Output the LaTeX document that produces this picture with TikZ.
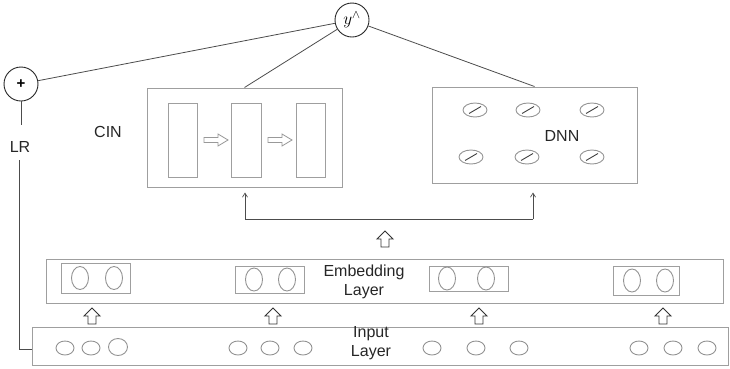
\documentclass[tikz,border=0pt]{standalone}
\usepackage{fontspec}
\setmainfont{Liberation Sans}
\usetikzlibrary{arrows.meta,shapes.geometric}
\begin{document}
\begin{tikzpicture}[x=1pt,y=-1pt,
  box/.style={draw=gray!75,line width=1pt,inner sep=0pt},
  conn/.style={draw=black!70,line width=0.8pt},
  circ/.style={circle,draw=black!85,line width=0.9pt,minimum size=34pt,inner sep=0pt},
  lbl/.style={font=\fontsize{16}{18}\selectfont,text=black!85,align=center,inner sep=0pt},
  unit/.style={ellipse,draw=gray!85,line width=0.9pt,inner sep=0pt},
  hollow/.style={draw=black!80,line width=0.9pt,fill=white},
  thin/.style={draw=black!70,line width=0.7pt,-{Straight Barb[length=4pt,width=5pt]}}
]
\useasboundingbox (0,0) rectangle (730,368);
% output circles
\node[circ,font=\fontsize{17}{20}\selectfont] (yhat) at (352,20) {$y^{\scriptstyle\wedge}$};
\node[circ,font=\fontsize{15}{18}\selectfont\bfseries] (plus) at (21,84) {+};
% CIN
\node[box,minimum width=195pt,minimum height=99pt] (cin) at (244.5,137.5) {};
\node[lbl] (cinl) at (108,132) {CIN};
\node[box,minimum width=29pt,minimum height=74pt] (c1) at (182.5,140) {};
\node[box,minimum width=30pt,minimum height=74pt] (c2) at (246,140) {};
\node[box,minimum width=29pt,minimum height=74pt] (c3) at (310.5,140) {};
\foreach \x in {204,268}{
  \draw[hollow,draw=gray!80,line width=0.8pt] (\x,137.5) -- (\x+14,137.5) -- (\x+14,134) -- (\x+24,140) -- (\x+14,146) -- (\x+14,142.5) -- (\x,142.5) -- cycle;
}
% DNN
\node[box,minimum width=205pt,minimum height=96pt] (dnn) at (534.5,135) {};
\node[lbl] (dnnl) at (562,136) {DNN};
\foreach \x/\y [count=\i] in {475/110,528/110,592/110,471/157,527/157,592/157}{
  \node[unit,minimum width=24pt,minimum height=14pt] (d\i) at (\x,\y) {};
  \draw[black!75,line width=0.9pt] (\x-6,\y+3.5) -- (\x+6,\y-3.5);
}
% connectors to output
\draw[conn] (plus) -- (yhat);
\draw[conn] (yhat) -- (cin.north);
\draw[conn] (yhat) -- (dnn.north);
% LR
\node[lbl] (lr) at (20,147) {LR};
\draw[conn] (plus.south) -- ++(0,24);
% embedding
\node[box,minimum width=677pt,minimum height=44pt] (emb) at (384.5,281) {};
\node[lbl,font=\fontsize{16}{19}\selectfont] (embl) at (364,282) {Embedding\\Layer};
\foreach \a/\b/\t/\bb/\e/\f [count=\i] in {61/130/263/293/80/114,235/304/266/293/254/287,429/508/266/291/447/486,613/679/266/295/632/665}{
  \draw[box] (\a,\t) rectangle (\b,\bb);
  \node[unit,minimum width=17pt,minimum height=23pt] (ea\i) at (\e,{(\t+\bb)/2}) {};
  \node[unit,minimum width=17pt,minimum height=23pt] (eb\i) at (\f,{(\t+\bb)/2}) {};
}
% input
\node[box,minimum width=696pt,minimum height=38pt] (inp) at (380,346) {};
\node[lbl,font=\fontsize{16}{19}\selectfont] (inpl) at (371,343) {Input\\Layer};
\foreach \x [count=\i] in {65,91,238,270,303,432,476,519,639,673,707}{
  \node[unit,minimum width=18pt,minimum height=14pt] (i\i) at (\x,348) {};
}
\node[unit,minimum width=19pt,minimum height=17pt] (i0) at (118,347) {};
% LR line down to input
\coordinate (lrtop) at (19,160);
\draw[conn] (lrtop) |- (inp.west |- 0,349);
% hollow up arrows between layers
\foreach \x in {92,273,479,663,385}{
  \pgfmathsetmacro{\yy}{(\x==385)?239:316}
  \draw[hollow] (\x,\yy-8) -- (\x+8,\yy) -- (\x+4,\yy) -- (\x+4,\yy+8) -- (\x-4,\yy+8) -- (\x-4,\yy) -- (\x-8,\yy) -- cycle;
}
% bracket arrow to CIN and DNN
\coordinate (bl) at (245,219);
\coordinate (br) at (533,219);
\draw[thin,shorten >=5pt] (bl) -- (bl |- cin.south);
\draw[conn] (bl) -- (br);
\draw[thin,shorten >=9pt] (br) -- (br |- dnn.south);
\end{tikzpicture}
\end{document}
